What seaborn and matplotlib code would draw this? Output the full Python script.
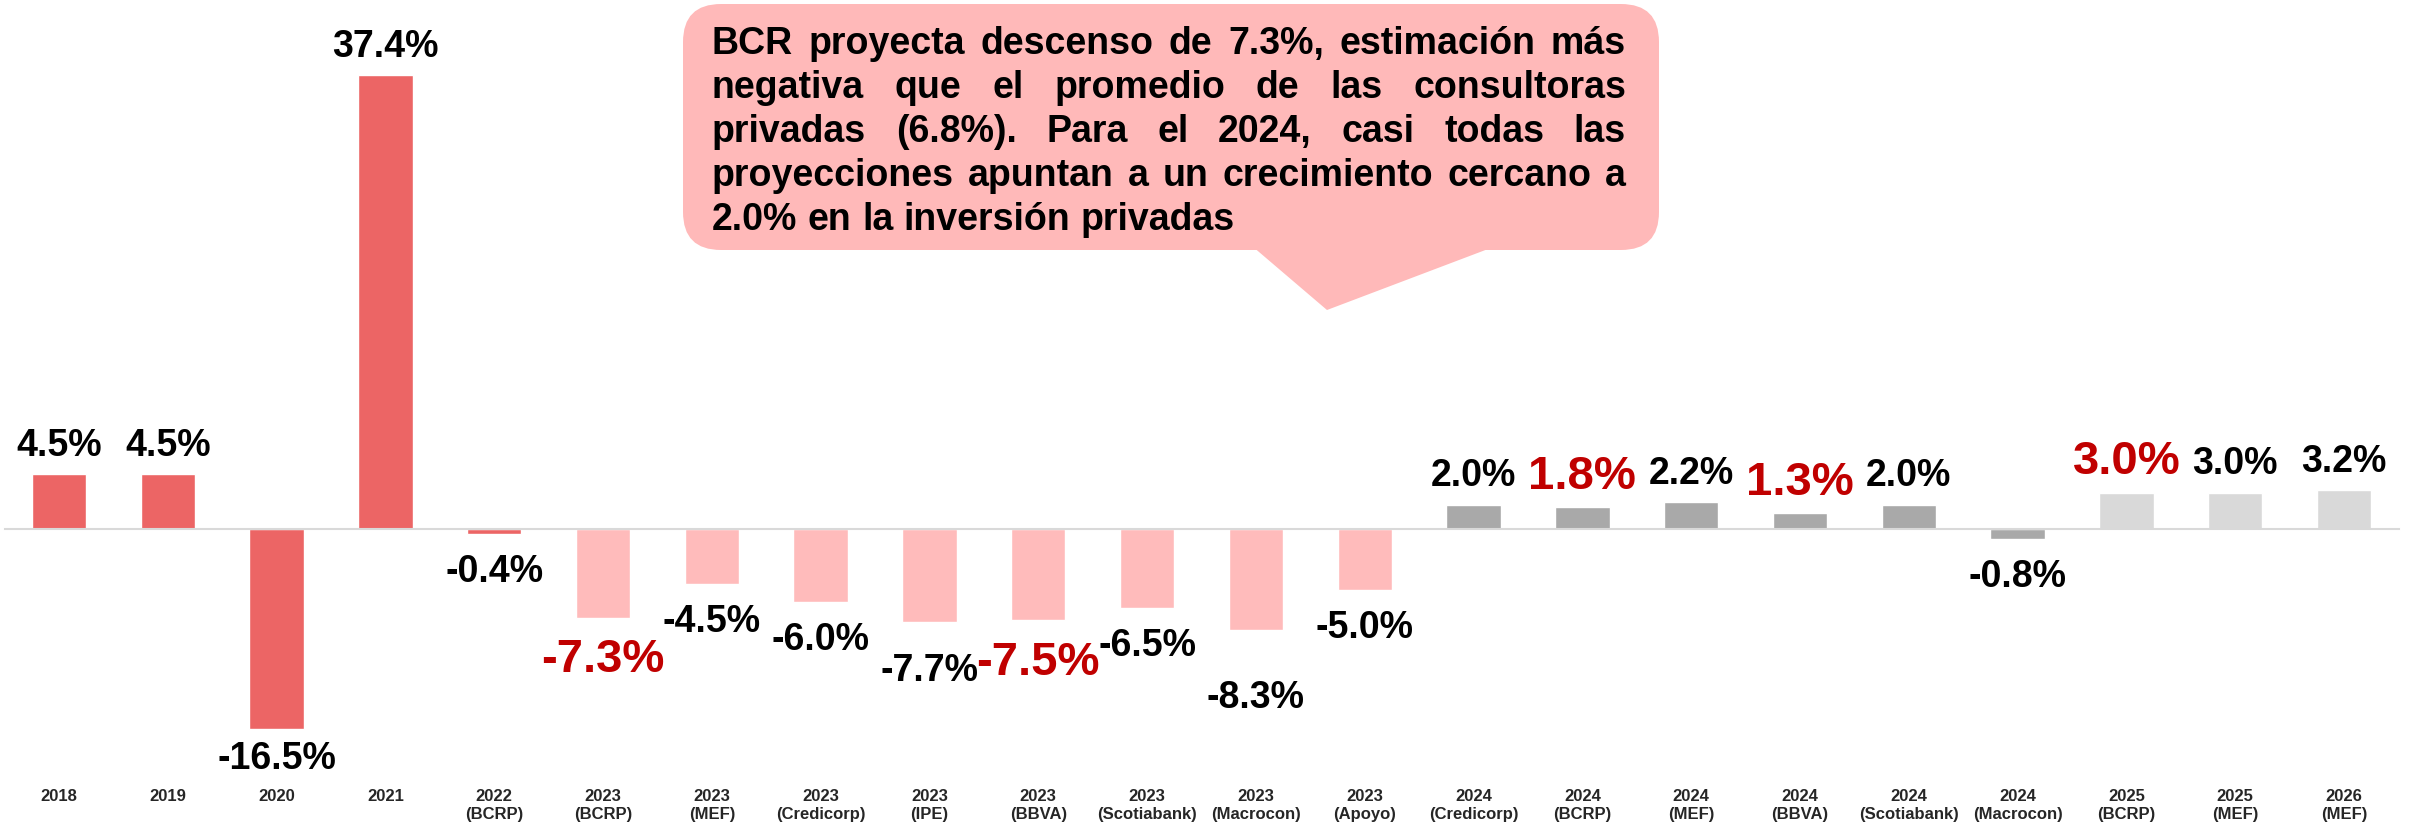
import matplotlib
matplotlib.use("Agg")
import numpy as np
import pandas as pd
import matplotlib.pyplot as plt
import seaborn as sns
from matplotlib.patches import FancyBboxPatch, Polygon
from matplotlib.transforms import IdentityTransform


# ── Data ───────────────────────────────────────────────────────────────────────
years = ["2018", "2019", "2020", "2021", "2022",
         "2023", "2023", "2023", "2023", "2023", "2023", "2023", "2023",
         "2024", "2024", "2024", "2024", "2024", "2024",
         "2025", "2025", "2026"]
sources = ["", "", "", "", "BCRP",
           "BCRP", "MEF", "Credicorp", "IPE", "BBVA", "Scotiabank", "Macrocon", "Apoyo",
           "Credicorp", "BCRP", "MEF", "BBVA", "Scotiabank", "Macrocon",
           "BCRP", "MEF", "MEF"]
values = [4.5, 4.5, -16.5, 37.4, -0.4,
          -7.3, -4.5, -6.0, -7.7, -7.5, -6.5, -8.3, -5.0,
          2.0, 1.8, 2.2, 1.3, 2.0, -0.8,
          3.0, 3.0, 3.2]
groups = (["real"] * 5 + ["proy_2023"] * 8 + ["proy_2024"] * 6 + ["proy_2025"] * 3)
highlight = [False, False, False, False, False,
             True, False, False, False, True, False, False, False,
             False, True, False, True, False, False,
             True, False, False]

callout_lines = [
    "BCR proyecta descenso de 7.3%, estimación más",
    "negativa que el promedio de las consultoras",
    "privadas (6.8%). Para el 2024, casi todas las",
    "proyecciones apuntan a un crecimiento cercano a",
    "2.0% en la inversión privadas",
]

# ── Style ──────────────────────────────────────────────────────────────────────
palette = {"real": "#EC6565", "proy_2023": "#FFBBBB",
           "proy_2024": "#A9A9A9", "proy_2025": "#D9D9D9"}
RED = "#C00000"
PINK = "#FFB9B9"
# small manual nudges of a few labels (pixels, + = further from bar)
nudge = {2: -9, 8: 10, 11: 30}

sns.set_style("white")
plt.rcParams["font.family"] = ["Liberation Sans", "DejaVu Sans"]
plt.rcParams["font.weight"] = "bold"

labels = [y if not s else f"{y}\n({s})" for y, s in zip(years, sources)]
df = pd.DataFrame({"label": labels, "value": values, "group": groups})

W, H = 2410, 826
fig = plt.figure(figsize=(W / 100, H / 100), dpi=100)
ymin, ymax = -21, 40
px_per_unit = 12.13
ax_bottom = 529 + (-ymin) * px_per_unit
ax_top = 529 - ymax * px_per_unit
ax = fig.add_axes([4.5 / W, 1 - ax_bottom / H, 2394 / W, (ax_bottom - ax_top) / H])

sns.barplot(data=df, x="label", y="value", hue="group", palette=palette,
            dodge=False, width=0.5, saturation=1, legend=False, ax=ax)
ax.set_ylim(ymin, ymax)
ax.set_xlim(-0.5, len(values) - 0.5)
ax.set_xlabel("")
ax.set_ylabel("")
ax.set_yticks([])
for side in ["top", "right", "left"]:
    ax.spines[side].set_visible(False)

# zero axis with tick marks between categories
ax.spines["bottom"].set_position(("data", 0))
ax.spines["bottom"].set_color("#D9D9D9")
ax.spines["bottom"].set_linewidth(1.5)
ax.set_xticks([])
ax.set_xticks(np.arange(len(values) + 1) - 0.5, minor=True)
ax.tick_params(axis="x", which="minor", length=4, width=1.2, color="#D9D9D9", direction="out")

# category labels at the bottom of the plot
sec = ax.secondary_xaxis("bottom")
sec.set_xticks(range(len(labels)), labels)
sec.spines["bottom"].set_visible(False)
sec.tick_params(axis="x", length=0, pad=4, labelsize=12)
for t in sec.get_xticklabels():
    t.set_fontweight("bold")
    t.set_linespacing(1.25)

# value labels
for i, (v, hl) in enumerate(zip(values, highlight)):
    extra = nudge.get(i, 0) * 72 / 100
    size = 34 if hl else 27
    color = RED if hl else "black"
    if v >= 0:
        ax.annotate(f"{v:.1f}%", xy=(i, v), xytext=(0, 13.3 + extra),
                    textcoords="offset points", ha="center", va="baseline",
                    fontsize=size, fontweight="bold", color=color)
    else:
        ax.annotate(f"{v:.1f}%", xy=(i, v), xytext=(0, -14.8 - extra),
                    textcoords="offset points", ha="center", va="top",
                    fontsize=size, fontweight="bold", color=color)

# ── Callout ────────────────────────────────────────────────────────────────────
px = IdentityTransform()
box = FancyBboxPatch((683, H - 250), 1659 - 683, 246,
                     boxstyle="round,pad=0,rounding_size=38",
                     facecolor=PINK, edgecolor="none", transform=px, zorder=5)
tail = Polygon([(1252, H - 246), (1496, H - 246), (1327, H - 310)], closed=True,
               facecolor=PINK, edgecolor="none", transform=px, zorder=5)
fig.patches.extend([box, tail])

renderer = fig.canvas.get_renderer()
x0, x1 = 712, 1626
fs = 27
space_w = fs * 100 / 72 * 0.278
for n, line in enumerate(callout_lines):
    base = H - (54 + n * 44)
    words = line.split()
    arts = [fig.text(0, base / H, w, ha="left", va="baseline", fontsize=fs,
                     fontweight="bold", color="black", zorder=6) for w in words]
    widths = [a.get_window_extent(renderer).width for a in arts]
    if n == len(callout_lines) - 1:
        gap = space_w
    else:
        gap = (x1 - x0 - sum(widths)) / (len(words) - 1)
    x = x0
    for a, w in zip(arts, widths):
        a.set_x(x / W)
        x += w + gap

fig.savefig("out.png", dpi=100)
